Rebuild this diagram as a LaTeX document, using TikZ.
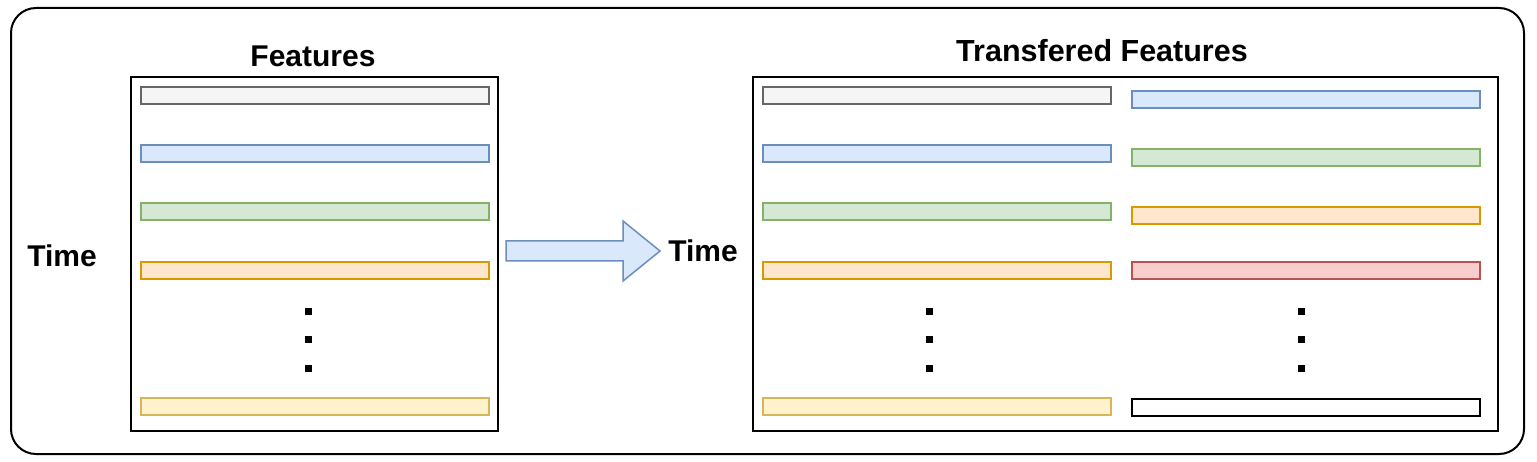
\documentclass[tikz,border=0pt]{standalone}
\usepackage{fontspec}
\setmainfont{Liberation Sans}
\definecolor{grayF}{HTML}{F5F5F5}\definecolor{grayS}{HTML}{666666}
\definecolor{blueF}{HTML}{DAE8FC}\definecolor{blueS}{HTML}{6C8EBF}
\definecolor{greenF}{HTML}{D5E8D4}\definecolor{greenS}{HTML}{82B366}
\definecolor{orangeF}{HTML}{FFE6CC}\definecolor{orangeS}{HTML}{D79B00}
\definecolor{redF}{HTML}{F8CECC}\definecolor{redS}{HTML}{B85450}
\definecolor{yellowF}{HTML}{FFF2CC}\definecolor{yellowS}{HTML}{D6B656}
\tikzset{
  bar/.style={draw, line width=2pt, rectangle, inner sep=0pt, minimum width=348pt, minimum height=17pt},
  gbar/.style={bar, draw=grayS, fill=grayF},
  bbar/.style={bar, draw=blueS, fill=blueF},
  grbar/.style={bar, draw=greenS, fill=greenF},
  obar/.style={bar, draw=orangeS, fill=orangeF},
  rbar/.style={bar, draw=redS, fill=redF},
  ybar/.style={bar, draw=yellowS, fill=yellowF},
  wbar/.style={bar, draw=black, fill=white},
  box/.style={draw=black, line width=2pt, rectangle, inner sep=0pt},
  dot/.style={fill=black, rectangle, inner sep=0pt, minimum width=7pt, minimum height=7pt},
  lbl/.style={font=\fontsize{30}{36}\selectfont\bfseries, inner sep=0pt, anchor=base},
}
\begin{document}
\begin{tikzpicture}[x=1pt,y=-1pt]
\useasboundingbox (0,0) rectangle (1537,462);
% outer frame
\draw[line width=2pt, rounded corners=25pt] (11,8) rectangle (1524,454);
% left box
\node[box, minimum width=367pt, minimum height=354pt] (lbox) at (314.5,254) {};
\node[lbl] (ltitle) at (313,67) {Features};
\node[lbl] (ltime) at (62,266.5) {Time};
\node[gbar] (l1) at (315,96) {};
\node[bbar] (l2) at (315,154) {};
\node[grbar] (l3) at (315,212) {};
\node[obar] (l4) at (315,270.5) {};
\node[dot] (ld1) at (308,312) {};
\node[dot] (ld2) at (308,340) {};
\node[dot] (ld3) at (308,368) {};
\node[ybar] (l5) at (315,406.5) {};
% arrow
\draw[draw=blueS, fill=blueF, line width=1.5pt, line join=miter]
  (506,241) -- (623,241) -- (623,221) -- (660,251) -- (623,281) -- (623,261) -- (506,261) -- cycle;
\node[lbl] (rtime) at (703,262) {Time};
% right box
\node[box, minimum width=745pt, minimum height=354pt] (rbox) at (1125.5,254) {};
\node[lbl, font=\fontsize{30.5}{36}\selectfont\bfseries] (rtitle) at (1102,62) {Transfered Features};
\node[gbar] (a1) at (936.5,96) {};
\node[bbar] (a2) at (936.5,154) {};
\node[grbar] (a3) at (936.5,212) {};
\node[obar] (a4) at (936.5,270.5) {};
\node[dot] (ad1) at (929,312) {};
\node[dot] (ad2) at (929,340) {};
\node[dot] (ad3) at (929,368) {};
\node[ybar] (a5) at (936.5,406.5) {};
\node[bbar] (b1) at (1305.5,99.5) {};
\node[grbar] (b2) at (1305.5,157.5) {};
\node[obar] (b3) at (1305.5,216) {};
\node[rbar] (b4) at (1305.5,270.5) {};
\node[dot] (bd1) at (1301,312) {};
\node[dot] (bd2) at (1301,340) {};
\node[dot] (bd3) at (1301,368) {};
\node[wbar] (b5) at (1305.5,407) {};
\end{tikzpicture}
\end{document}
